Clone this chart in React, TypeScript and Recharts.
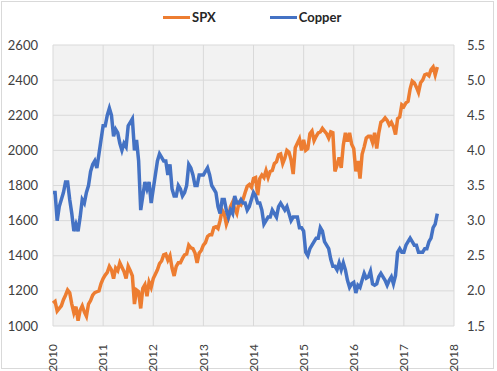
import { LineChart, Line, XAxis, YAxis, CartesianGrid, Legend } from "recharts";

// semi-monthly closes, first value = Jan 2010
const spx = [
  1130, 1140, 1085, 1100, 1115, 1150, 1175, 1205, 1190, 1125, 1075, 1110, 1030, 1090, 1115, 1080, 1055, 1125, 1145, 1176, 1190, 1195, 1200, 1242,
  1270, 1290, 1305, 1340, 1320, 1270, 1330, 1315, 1360, 1335, 1310, 1270, 1340, 1315, 1285, 1125, 1205, 1195, 1100, 1215, 1235, 1170, 1250, 1220,
  1270, 1295, 1320, 1355, 1370, 1405, 1410, 1375, 1400, 1330, 1285, 1340, 1360, 1360, 1385, 1405, 1410, 1460, 1445, 1440, 1415, 1360, 1415, 1430,
  1460, 1475, 1510, 1520, 1520, 1560, 1565, 1555, 1600, 1660, 1640, 1580, 1615, 1680, 1705, 1665, 1640, 1700, 1690, 1720, 1760, 1795, 1805, 1790,
  1840, 1845, 1745, 1840, 1860, 1845, 1885, 1845, 1880, 1885, 1925, 1935, 1975, 1980, 1925, 1955, 2000, 1990, 1945, 1865, 2015, 2040, 2065, 2000,
  2060, 2000, 2010, 2095, 2110, 2055, 2080, 2100, 2105, 2125, 2110, 2095, 2070, 2105, 2100, 1880, 1915, 1960, 1900, 2030, 2100, 2050, 2100, 2035,
  2010, 1880, 1940, 1840, 1978, 2020, 2070, 2080, 2080, 2045, 2100, 2010, 2100, 2160, 2170, 2185, 2170, 2145, 2160, 2135, 2090, 2180, 2190, 2260,
  2250, 2270, 2280, 2350, 2395, 2385, 2360, 2330, 2385, 2400, 2430, 2435, 2425, 2460, 2475, 2430, 2475,
];

const copper = [
  3.4, 3.4, 3.0, 3.2, 3.3, 3.4, 3.55, 3.55, 3.3, 3.1, 2.85, 2.95, 2.85, 3.05, 3.3, 3.25, 3.4, 3.5, 3.7, 3.8, 3.85, 3.75, 3.95, 4.15,
  4.35, 4.35, 4.5, 4.6, 4.5, 4.2, 4.3, 4.25, 4.1, 4.0, 4.1, 4.05, 4.35, 4.4, 4.45, 4.0, 4.15, 3.85, 3.15, 3.35, 3.55, 3.45, 3.55, 3.25,
  3.45, 3.65, 3.85, 3.95, 3.9, 3.85, 3.85, 3.65, 3.8, 3.45, 3.35, 3.35, 3.5, 3.45, 3.35, 3.4, 3.5, 3.8, 3.75, 3.65, 3.5, 3.5, 3.65, 3.65,
  3.65, 3.7, 3.75, 3.65, 3.5, 3.45, 3.4, 3.2, 3.1, 3.3, 3.3, 3.15, 3.05, 3.15, 3.1, 3.35, 3.25, 3.25, 3.3, 3.25, 3.25, 3.15, 3.2, 3.3,
  3.4, 3.35, 3.25, 3.25, 3.15, 2.95, 3.0, 3.05, 3.05, 3.15, 3.1, 3.05, 3.2, 3.25, 3.2, 3.15, 3.2, 3.1, 3.0, 3.05, 3.05, 3.05, 2.9, 2.9,
  2.85, 2.55, 2.5, 2.6, 2.65, 2.7, 2.75, 2.75, 2.9, 2.85, 2.7, 2.65, 2.6, 2.45, 2.35, 2.35, 2.3, 2.4, 2.3, 2.4, 2.3, 2.15, 2.05, 2.1,
  2.12, 1.97, 2.08, 2.05, 2.15, 2.25, 2.18, 2.2, 2.28, 2.1, 2.08, 2.1, 2.2, 2.25, 2.2, 2.15, 2.08, 2.15, 2.2, 2.1, 2.22, 2.55, 2.6, 2.55,
  2.55, 2.65, 2.7, 2.75, 2.7, 2.65, 2.65, 2.55, 2.55, 2.55, 2.6, 2.6, 2.7, 2.75, 2.9, 2.95, 3.1,
];

const yearTicks = [2010, 2011, 2012, 2013, 2014, 2015, 2016, 2017, 2018];
const spxTicks = [1000, 1200, 1400, 1600, 1800, 2000, 2200, 2400, 2600];
const copperTicks = [1.5, 2.0, 2.5, 3.0, 3.5, 4.0, 4.5, 5.0, 5.5];

const data = spx.map((v, i) => ({ t: 2010 + i / 24, spx: v, copper: copper[i] }));

const FONT = "Lato, 'DejaVu Sans', sans-serif";

const YearTick = (props: any) => {
  const { x, y, payload } = props;
  const ty = y + 10;
  return (
    <text
      x={x}
      y={ty}
      transform={`rotate(-90, ${x}, ${ty})`}
      textAnchor="end"
      dy="0.35em"
      fill="#404040"
      fontSize={12}
      fontFamily={FONT}
    >
      {payload.value}
    </text>
  );
};

const legendItems = [
  { label: "SPX", color: "#ED7D31" },
  { label: "Copper", color: "#4472C4" },
];

const renderLegend = () => (
  <div style={{ display: "flex", paddingLeft: 163, fontFamily: FONT }}>
    {legendItems.map((item) => (
      <div key={item.label} style={{ display: "flex", alignItems: "center", marginRight: 54 }}>
        <span style={{ width: 27, height: 3, background: item.color, marginRight: 2 }} />
        <span style={{ fontSize: 13, fontWeight: 700, color: "#262626" }}>{item.label}</span>
      </div>
    ))}
  </div>
);

export default function App() {
  return (
    <div style={{ position: "absolute", left: 0, top: 0, width: 497, height: 371, background: "#fff" }}>
      <div
        style={{
          position: "absolute",
          left: 1,
          top: 1,
          width: 493,
          height: 368,
          border: "1px solid #d9d9d9",
          boxSizing: "border-box",
        }}
      />
      <LineChart width={497} height={371} data={data} margin={{ top: 29, right: 0, bottom: 5, left: 0 }}>
        <CartesianGrid yAxisId="left" stroke="#d9d9d9" fill="#f2f2f2" />
        <XAxis
          dataKey="t"
          type="number"
          domain={[2010, 2018]}
          ticks={yearTicks}
          axisLine={false}
          tickLine={false}
          height={40}
          tick={<YearTick />}
          interval={0}
        />
        <YAxis
          yAxisId="left"
          domain={[1000, 2600]}
          ticks={spxTicks}
          axisLine={false}
          tickLine={false}
          width={53}
          tickMargin={9}
          tick={{ fill: "#404040", fontSize: 13, fontFamily: FONT }}
          interval={0}
        />
        <YAxis
          yAxisId="right"
          orientation="right"
          domain={[1.5, 5.5]}
          ticks={copperTicks}
          tickFormatter={(v: number) => v.toFixed(1)}
          axisLine={false}
          tickLine={false}
          width={43}
          tickMargin={7}
          tick={{ fill: "#404040", fontSize: 13, fontFamily: FONT }}
          interval={0}
        />
        <Legend verticalAlign="top" content={renderLegend} wrapperStyle={{ top: 9, left: 0, width: 497 }} />
        <Line
          yAxisId="left"
          dataKey="spx"
          stroke="#ED7D31"
          strokeWidth={3.5}
          dot={false}
          isAnimationActive={false}
        />
        <Line
          yAxisId="right"
          dataKey="copper"
          stroke="#4472C4"
          strokeWidth={3.5}
          dot={false}
          isAnimationActive={false}
        />
      </LineChart>
    </div>
  );
}
